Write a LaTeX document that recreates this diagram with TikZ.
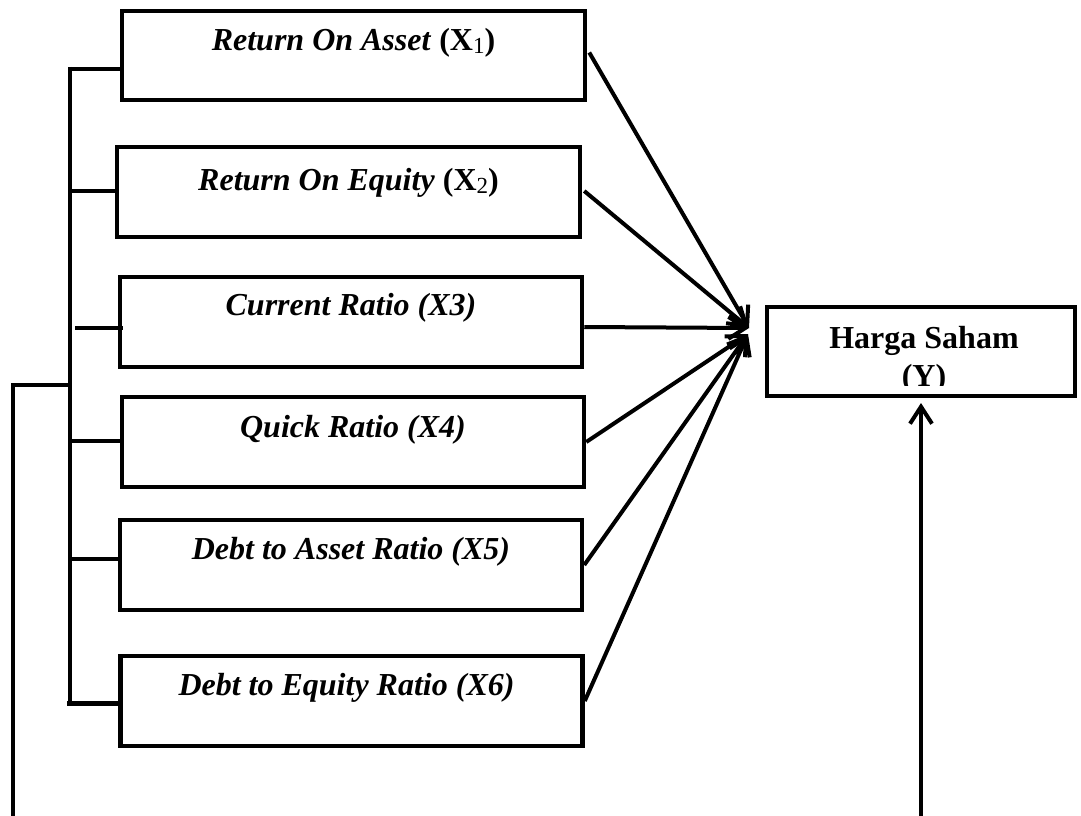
\documentclass[tikz,border=0pt]{standalone}
\usepackage{fontspec}
\setmainfont{Liberation Serif}
\usetikzlibrary{arrows.meta,calc}
\tikzset{
  varbox/.style={draw, line width=4.5pt, rectangle, inner sep=0pt, minimum width=462pt, minimum height=89pt},
  ybox/.style={draw, line width=4.5pt, rectangle, inner sep=0pt, minimum width=308pt, minimum height=89pt},
  lbl/.style={anchor=base, inner sep=0pt, font=\fontsize{32}{38}\selectfont\bfseries},
  wire/.style={line width=4pt},
  arr/.style={line width=4pt, -{Straight Barb[length=17pt,width=22pt,line width=4pt]}}
}
\newcommand{\subnum}[1]{\raisebox{-3pt}{\fontsize{23}{23}\selectfont\mdseries #1}}
\begin{document}
\begin{tikzpicture}[x=1pt,y=-1pt]
\useasboundingbox (0,0) rectangle (1081,816);
% boxes
\node[varbox, minimum width=463pt] (b1) at (353.5,55.5) {};
\node[varbox, minimum width=463pt, minimum height=90pt] (b2) at (348.5,192) {};
\node[varbox, minimum height=90pt] (b3) at (351,322) {};
\node[varbox, minimum height=90pt] (b4) at (353,442) {};
\node[varbox, minimum height=90pt] (b5) at (351,565) {};
\node[varbox, minimum height=90pt] (b6) at (351.5,701) {};
\node[ybox] (y) at (921,351.5) {};
% labels
\node[lbl] (t1) at ($(b1.north)+(0,42)$) {\textit{Return On Asset} (X\subnum{1})};
\node[lbl] (t2) at ($(b2.north)+(0,46)$) {\textit{Return On Equity} (X\subnum{2})};
\node[lbl] (t3) at ($(b3.north)+(0,41)$) {\textit{Current Ratio (X3)}};
\node[lbl] (t4) at ($(b4.north)+(0,43)$) {\textit{Quick Ratio (X4)}};
\node[lbl] (t5) at ($(b5.north)+(0,42)$) {\textit{Debt to Asset Ratio (X5)}};
\node[lbl] (t6) at ($(b6.north)+(-5,42)$) {\textit{Debt to Equity Ratio (X6)}};
\node[lbl] (ty1) at (924,348) {Harga Saham};
\begin{scope}
\clip (770,355) rectangle (1070,385);
\node[lbl] (ty2) at (924,386) {(Y)};
\end{scope}
% bus coordinates
\coordinate (j1) at (70,69);
\coordinate (j2) at (70,191);
\coordinate (j3) at (75,328);
\coordinate (j4) at (70,441);
\coordinate (j5) at (70,559);
\coordinate (j6) at (67,703);
\coordinate (jtop) at (70,67);
\coordinate (jbot) at (70,705);
\coordinate (jo) at (70,385);
\coordinate (o1) at (13,385);
\coordinate (o2) at (13,816);
\coordinate (r1) at (921,816);
\coordinate (r2) at (921,403);
\coordinate (c1) at (749,328);
\coordinate (c2) at (748,334);
% bus
\draw[wire] (jtop) -- (jbot);
\draw[wire] (j1) -- (j1 -| b1.west);
\draw[wire] (j2) -- (j2 -| b2.west);
\draw[wire] (j3) -- ($(j3 -| b3.west)+(5,0)$);
\draw[wire] (j4) -- (j4 -| b4.west);
\draw[wire] (j5) -- (j5 -| b5.west);
\draw[line width=5pt] (j6) -- (j6 -| b6.west);
\draw[wire] (o2) -- (o1) -- (jo);
% arrows
\draw[arr] ($(b1.east)+(2,-3)$) -- (c1);
\draw[arr] ($(b2.east)+(2,-1)$) -- (c1);
\draw[arr] ($(b3.east)+(0,5)$) -- (c1);
\draw[arr] (b4.east) -- (c2);
\draw[arr] (b5.east) -- (c2);
\draw[arr] (b6.east) -- (c2);
\draw[arr] (r1) -- (r2);
\end{tikzpicture}
\end{document}
